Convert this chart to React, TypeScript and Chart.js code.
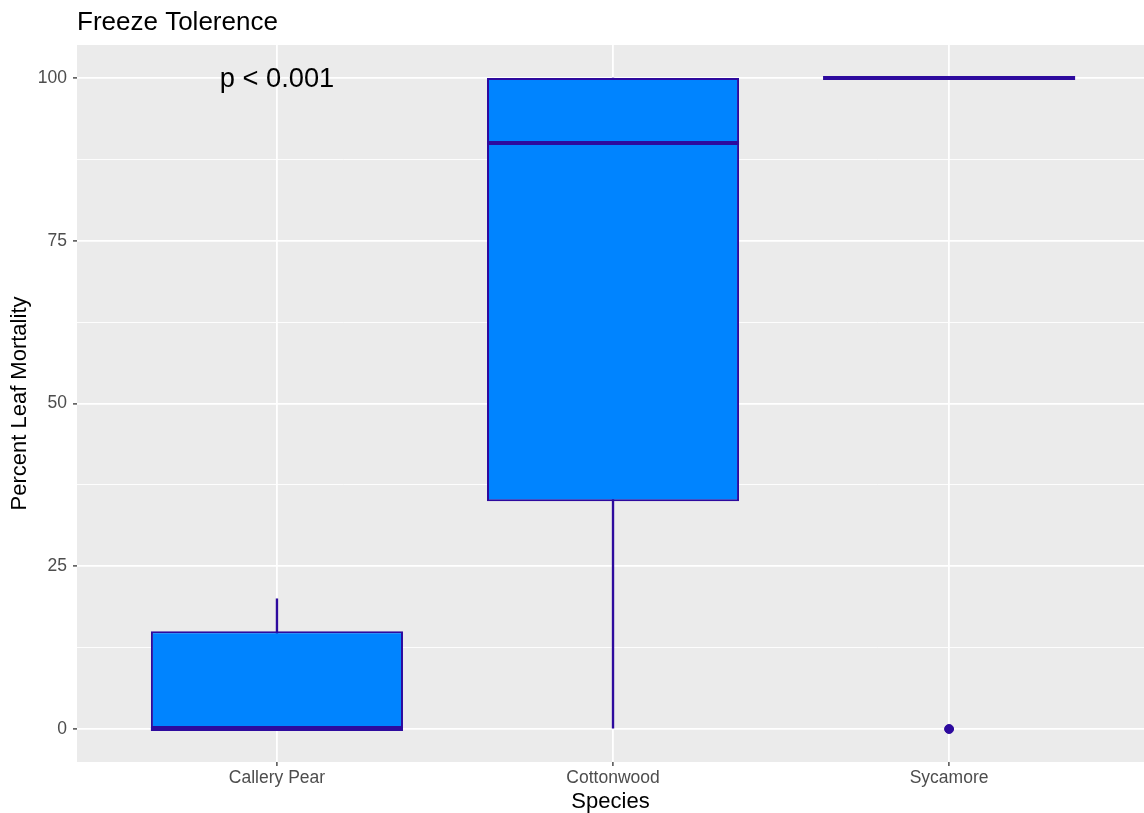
import { useEffect, useRef } from "react";
import { Chart, registerables } from "chart.js";

Chart.register(...registerables);

// ---- data ----
const categories = ["Callery Pear", "Cottonwood", "Sycamore"];
const positions = [1, 2, 3];
const whiskerLow = [0, 0, 100];
const q1 = [0, 35, 100];
const median = [0, 90, 100];
const q3 = [15, 100, 100];
const whiskerHigh = [20, 100, 100];
const outlierCategories = ["Sycamore"];
const outlierValues = [0];
const yMajorTicks = [0, 25, 50, 75, 100];
const yMinorTicks = [12.5, 37.5, 62.5, 87.5];
const annotationText = "p < 0.001";
const annotationCategory = "Callery Pear";
const annotationValue = 100;

const FILL = "#0084FF";
const LINE = "#2D0A9E";
const FONT = "'Liberation Sans', Arial, Helvetica, sans-serif";

export default function App() {
  const ref = useRef<HTMLCanvasElement | null>(null);

  useEffect(() => {
    if (!ref.current) return;
    Chart.defaults.font.family = FONT;

    const panelBg = {
      id: "panelBg",
      beforeDraw(chart: any) {
        const { ctx, chartArea } = chart;
        ctx.save();
        ctx.fillStyle = "#EBEBEB";
        ctx.fillRect(chartArea.left, chartArea.top, chartArea.right - chartArea.left, chartArea.bottom - chartArea.top);
        ctx.restore();
      },
    };

    const boxExtras = {
      id: "boxExtras",
      afterDatasetsDraw(chart: any) {
        const { ctx } = chart;
        const yScale = chart.scales.y;
        const xScale = chart.scales.x;
        const meta = chart.getDatasetMeta(1);
        ctx.save();
        ctx.strokeStyle = LINE;
        ctx.lineWidth = 4;
        ctx.lineCap = "butt";
        meta.data.forEach((el: any, i: number) => {
          const half = el.width / 2;
          const y = yScale.getPixelForValue(median[i]);
          ctx.beginPath();
          ctx.moveTo(el.x - half, y);
          ctx.lineTo(el.x + half, y);
          ctx.stroke();
        });
        // annotation
        const ax = xScale.getPixelForValue(positions[categories.indexOf(annotationCategory)]);
        const ay = yScale.getPixelForValue(annotationValue);
        ctx.fillStyle = "#000000";
        ctx.font = `27.3px ${FONT}`;
        ctx.textAlign = "center";
        ctx.textBaseline = "middle";
        ctx.fillText(annotationText, ax, ay + 1);
        ctx.restore();
      },
    };

    const allYTicks = [...yMajorTicks, ...yMinorTicks].sort((a, b) => a - b);
    const isMajor = (v: number) => yMajorTicks.includes(v);

    const chart = new Chart(ref.current, {
      type: "bar",
      data: {
        datasets: [
          {
            type: "scatter",
            label: "outliers",
            data: outlierCategories.map((c, i) => ({ x: positions[categories.indexOf(c)], y: outlierValues[i] })),
            backgroundColor: LINE,
            borderColor: LINE,
            pointRadius: 4.5,
            order: 0,
          } as any,
          {
            label: "box",
            data: positions.map((p, i) => ({ x: p, y: [q1[i], q3[i]] })),
            backgroundColor: FILL,
            borderColor: LINE,
            borderWidth: 2,
            borderSkipped: false,
            grouped: false,
            barPercentage: 0.75,
            categoryPercentage: 1,
            order: 1,
          } as any,
          {
            label: "whiskers",
            data: positions.map((p, i) => ({ x: p, y: [whiskerLow[i], whiskerHigh[i]] })),
            backgroundColor: LINE,
            borderWidth: 0,
            grouped: false,
            barThickness: 1.7,
            order: 2,
          } as any,
        ],
      },
      options: {
        animation: false,
        responsive: false,
        maintainAspectRatio: false,
        layout: { padding: 0, autoPadding: false },
        plugins: {
          legend: { display: false },
          tooltip: { enabled: false },
          title: {
            display: true,
            text: "Freeze Tolerence",
            align: "start",
            fullSize: false,
            color: "#000000",
            font: { size: 26, weight: "normal", lineHeight: 1.2 },
            padding: { top: 7, bottom: 6.8 },
          },
        },
        scales: {
          x: {
            type: "linear",
            min: 0.405,
            max: 3.58,
            offset: false,
            afterBuildTicks: (axis: any) => {
              axis.ticks = positions.map((v) => ({ value: v }));
            },
            afterFit: (s: any) => {
              s.height = 51;
              s.paddingLeft = 0;
              s.paddingRight = 0;
            },
            ticks: {
              autoSkip: false,
              maxRotation: 0,
              color: "#4D4D4D",
              font: { size: 17.5 },
              padding: 2,
              callback: (_v: any, i: number) => categories[i],
            },
            grid: {
              offset: false,
              color: "#FFFFFF",
              lineWidth: 1.8,
              tickLength: 4,
              tickColor: "#333333",
              tickWidth: 1.3,
            },
            border: { display: false },
            title: {
              display: true,
              text: "Species",
              color: "#000000",
              font: { size: 22, lineHeight: 1 },
              padding: { top: 0, bottom: 0 },
            },
          },
          y: {
            type: "linear",
            min: -5.07,
            max: 105.07,
            afterBuildTicks: (axis: any) => {
              axis.ticks = allYTicks.map((v) => ({ value: v }));
            },
            afterFit: (s: any) => {
              s.width = 77;
              s.paddingTop = 0;
              s.paddingBottom = 0;
            },
            ticks: {
              color: "#4D4D4D",
              font: { size: 17.5 },
              padding: 6,
              callback: (v: any) => (isMajor(Number(v)) ? String(v) : ""),
            },
            grid: {
              color: "#FFFFFF",
              lineWidth: (c: any) => (c.tick && isMajor(c.tick.value) ? 1.8 : 0.9),
              tickLength: 4,
              tickColor: (c: any) => (c.tick && isMajor(c.tick.value) ? "#333333" : "rgba(0,0,0,0)"),
              tickWidth: 1.3,
            },
            border: { display: false },
            title: {
              display: true,
              text: "Percent Leaf Mortality",
              color: "#000000",
              font: { size: 22, lineHeight: 1 },
              padding: { top: 9, bottom: 0 },
            },
          },
        },
      } as any,
      plugins: [panelBg, boxExtras],
    });

    return () => chart.destroy();
  }, []);

  return (
    <div style={{ position: "fixed", left: 0, top: 0, width: 1144, height: 813, background: "#FFFFFF" }}>
      <canvas ref={ref} width={1144} height={813} style={{ display: "block" }} />
    </div>
  );
}
